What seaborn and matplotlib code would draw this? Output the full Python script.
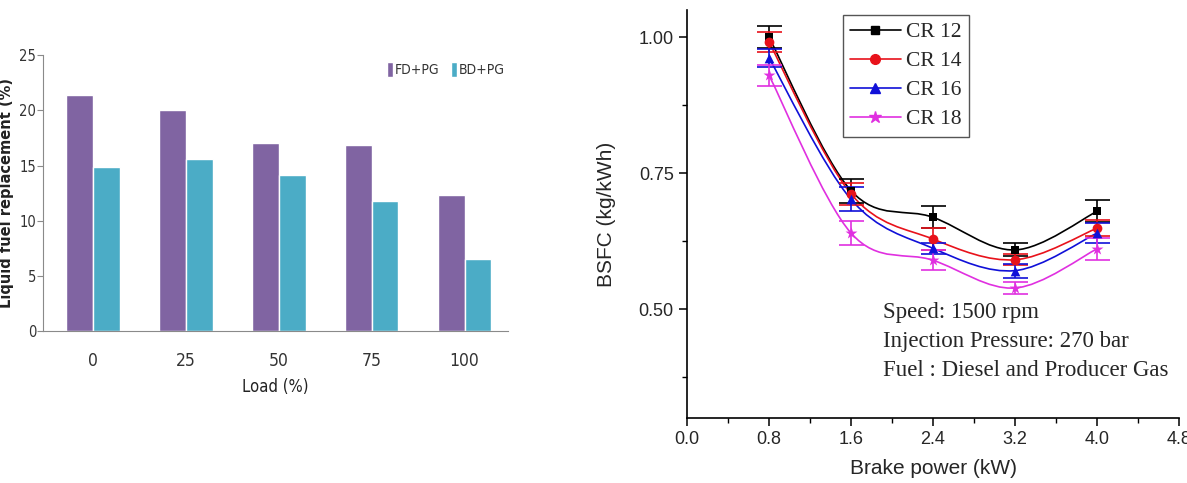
import numpy as np
import pandas as pd
import matplotlib
matplotlib.use('Agg')
import matplotlib.pyplot as plt
from matplotlib.path import Path
from matplotlib.patches import PathPatch
from matplotlib.lines import Line2D
from matplotlib.ticker import MultipleLocator, FormatStrFormatter
from matplotlib import font_manager
import seaborn as sns

# ---- left chart data ----
loads = ['0', '25', '50', '75', '100']
fd_pg = [21.35, 20.05, 17.05, 16.9, 12.3]
bd_pg = [14.85, 15.6, 14.1, 11.8, 6.5]

# ---- right chart data ----
brake_power = [0.8, 1.6, 2.4, 3.2, 4.0]
cr12 = [1.000, 0.718, 0.669, 0.609, 0.680]
cr14 = [0.991, 0.712, 0.629, 0.591, 0.649]
cr16 = [0.962, 0.702, 0.612, 0.571, 0.640]
cr18 = [0.930, 0.640, 0.590, 0.539, 0.611]
cr12_err = [0.020, 0.022, 0.020, 0.012, 0.020]
cr14_err = [0.018, 0.020, 0.020, 0.010, 0.015]
cr16_err = [0.017, 0.022, 0.010, 0.013, 0.018]
cr18_err = [0.019, 0.022, 0.018, 0.011, 0.020]

sns.set_style('white')
plt.rcParams['font.family'] = ['Liberation Sans', 'DejaVu Sans']
serif = ['Liberation Serif', 'DejaVu Serif']

# narrow font for the bar chart, if a condensed face exists
names = {f.name for f in font_manager.fontManager.ttflist}
cond = [f for f in font_manager.fontManager.ttflist
        if f.name == 'DejaVu Sans' and f.stretch == 'condensed']
if 'Liberation Sans Narrow' in names:
    narrow = dict(family='Liberation Sans Narrow')
elif cond:
    narrow = dict(family='DejaVu Sans', stretch='condensed')
else:
    narrow = dict(family='DejaVu Sans')

fig = plt.figure(figsize=(11.87, 4.83), dpi=100)
ax1 = fig.add_axes([0.0362, 0.3147, 0.392, 0.571])
ax2 = fig.add_axes([0.5788, 0.1346, 0.4145, 0.8444])

# ---------------- left: bar chart ----------------
df = pd.DataFrame({
    'load': loads * 2,
    'value': fd_pg + bd_pg,
    'fuel': ['FD+PG'] * len(loads) + ['BD+PG'] * len(loads),
})
purple = '#8064a2'
teal = '#4bacc6'
sns.barplot(data=df, x='load', y='value', hue='fuel', palette=[purple, teal],
            width=0.575, gap=0, saturation=1, ax=ax1)
ax1.set_xlim(-0.54, 4.47)
ax1.set_ylim(0, 25)
ax1.yaxis.set_major_locator(MultipleLocator(5))
for s in ['top', 'right']:
    ax1.spines[s].set_visible(False)
ax1.spines['left'].set_color('#8a8a8a')
ax1.spines['bottom'].set_color('#8a8a8a')
ax1.tick_params(axis='y', length=4, width=0.8, color='#8a8a8a', pad=1.0, left=True)
ax1.tick_params(axis='x', length=0, pad=15)
for lab in ax1.get_xticklabels():
    lab.set_fontproperties(font_manager.FontProperties(size=12.5, **narrow))
    lab.set_color('#333333')
for lab in ax1.get_yticklabels():
    lab.set_fontproperties(font_manager.FontProperties(size=10.5, **narrow))
    lab.set_color('#333333')
ax1.set_xlabel('Load (%)', fontsize=12, color='#222222', labelpad=6, **narrow)
ax1.set_ylabel('Liquid fuel replacement (%)', family='DejaVu Sans', fontsize=10.5,
               fontweight='bold', color='#222222')
ax1.yaxis.set_label_coords(-0.062, 0.5)
leg1 = ax1.legend(loc='upper right', ncol=2, frameon=False, handlelength=0.45,
                  handleheight=1.3, handletextpad=0.15, columnspacing=0.8,
                  bbox_to_anchor=(1.02, 1.02),
                  prop=font_manager.FontProperties(size=10, **narrow))
for t in leg1.get_texts():
    t.set_color('#333333')

# ---------------- right: BSFC line chart ----------------
def smooth_path(xs, ys):
    pts = np.column_stack([xs, ys])
    ext = np.vstack([pts[0], pts, pts[-1]])
    verts = [tuple(pts[0])]
    codes = [Path.MOVETO]
    for i in range(len(pts) - 1):
        p0, p1, p2, p3 = ext[i], ext[i + 1], ext[i + 2], ext[i + 3]
        c1 = p1 + (p2 - p0) / 6.0
        c2 = p2 - (p3 - p1) / 6.0
        verts += [tuple(c1), tuple(c2), tuple(p2)]
        codes += [Path.CURVE4] * 3
    return Path(verts, codes)

series = [
    ('CR 12', cr12, cr12_err, 'black', 's', 6),
    ('CR 14', cr14, cr14_err, '#e8121b', 'o', 7),
    ('CR 16', cr16, cr16_err, '#1010d8', '^', 7),
    ('CR 18', cr18, cr18_err, '#e030e0', '*', 9),
]
handles = []
for name, ys, err, col, mk, ms in series:
    ax2.add_patch(PathPatch(smooth_path(brake_power, ys), facecolor='none',
                            edgecolor=col, lw=1.2, zorder=2))
    ax2.errorbar(brake_power, ys, yerr=err, fmt='none', ecolor=col,
                 elinewidth=1.2, capsize=9, capthick=1.2, zorder=3)
    sns.scatterplot(x=brake_power, y=ys, marker=mk, color=col, s=ms ** 2,
                    edgecolor=col, linewidth=0, zorder=4, ax=ax2)
    handles.append(Line2D([], [], color=col, lw=1.2, marker=mk, markersize=ms))

ax2.set_xlim(0, 4.8)
ax2.set_ylim(0.30, 1.05)
ax2.xaxis.set_major_locator(MultipleLocator(0.8))
ax2.xaxis.set_minor_locator(MultipleLocator(0.4))
ax2.yaxis.set_minor_locator(MultipleLocator(0.125))
ax2.set_yticks([0.5, 0.75, 1.0])
ax2.yaxis.set_major_formatter(FormatStrFormatter('%.2f'))
ax2.xaxis.set_major_formatter(FormatStrFormatter('%.1f'))
for s in ['top', 'right']:
    ax2.spines[s].set_visible(False)
for s in ['left', 'bottom']:
    ax2.spines[s].set_color('black')
    ax2.spines[s].set_linewidth(1.2)
ax2.tick_params(which='major', direction='out', length=6, width=1.1,
                labelsize=13, color='black', left=True, bottom=True)
ax2.tick_params(which='minor', direction='out', length=3.5, width=1.0,
                color='black', left=True, bottom=True)
ax2.set_xlabel('Brake power (kW)', fontsize=15, labelpad=8)
ax2.set_ylabel('BSFC (kg/kWh)', fontsize=15, labelpad=16)

leg2 = ax2.legend(handles=handles, labels=[s[0] for s in series],
                  loc='upper left', bbox_to_anchor=(0.303, 1.005),
                  prop={'family': serif, 'size': 15.5}, handlelength=2.35,
                  handletextpad=0.25, labelspacing=0.42, borderpad=0.35,
                  borderaxespad=0.3, fancybox=False, edgecolor='#555555',
                  framealpha=1)
leg2.get_frame().set_linewidth(1.0)

notes = ['Speed: 1500 rpm', 'Injection Pressure: 270 bar',
         'Fuel : Diesel and Producer Gas']
for txt, yv in zip(notes, [0.494, 0.441, 0.387]):
    ax2.text(1.915, yv, txt, family=serif, fontsize=16.5, va='center', ha='left')

fig.savefig('out.png', dpi=100)
